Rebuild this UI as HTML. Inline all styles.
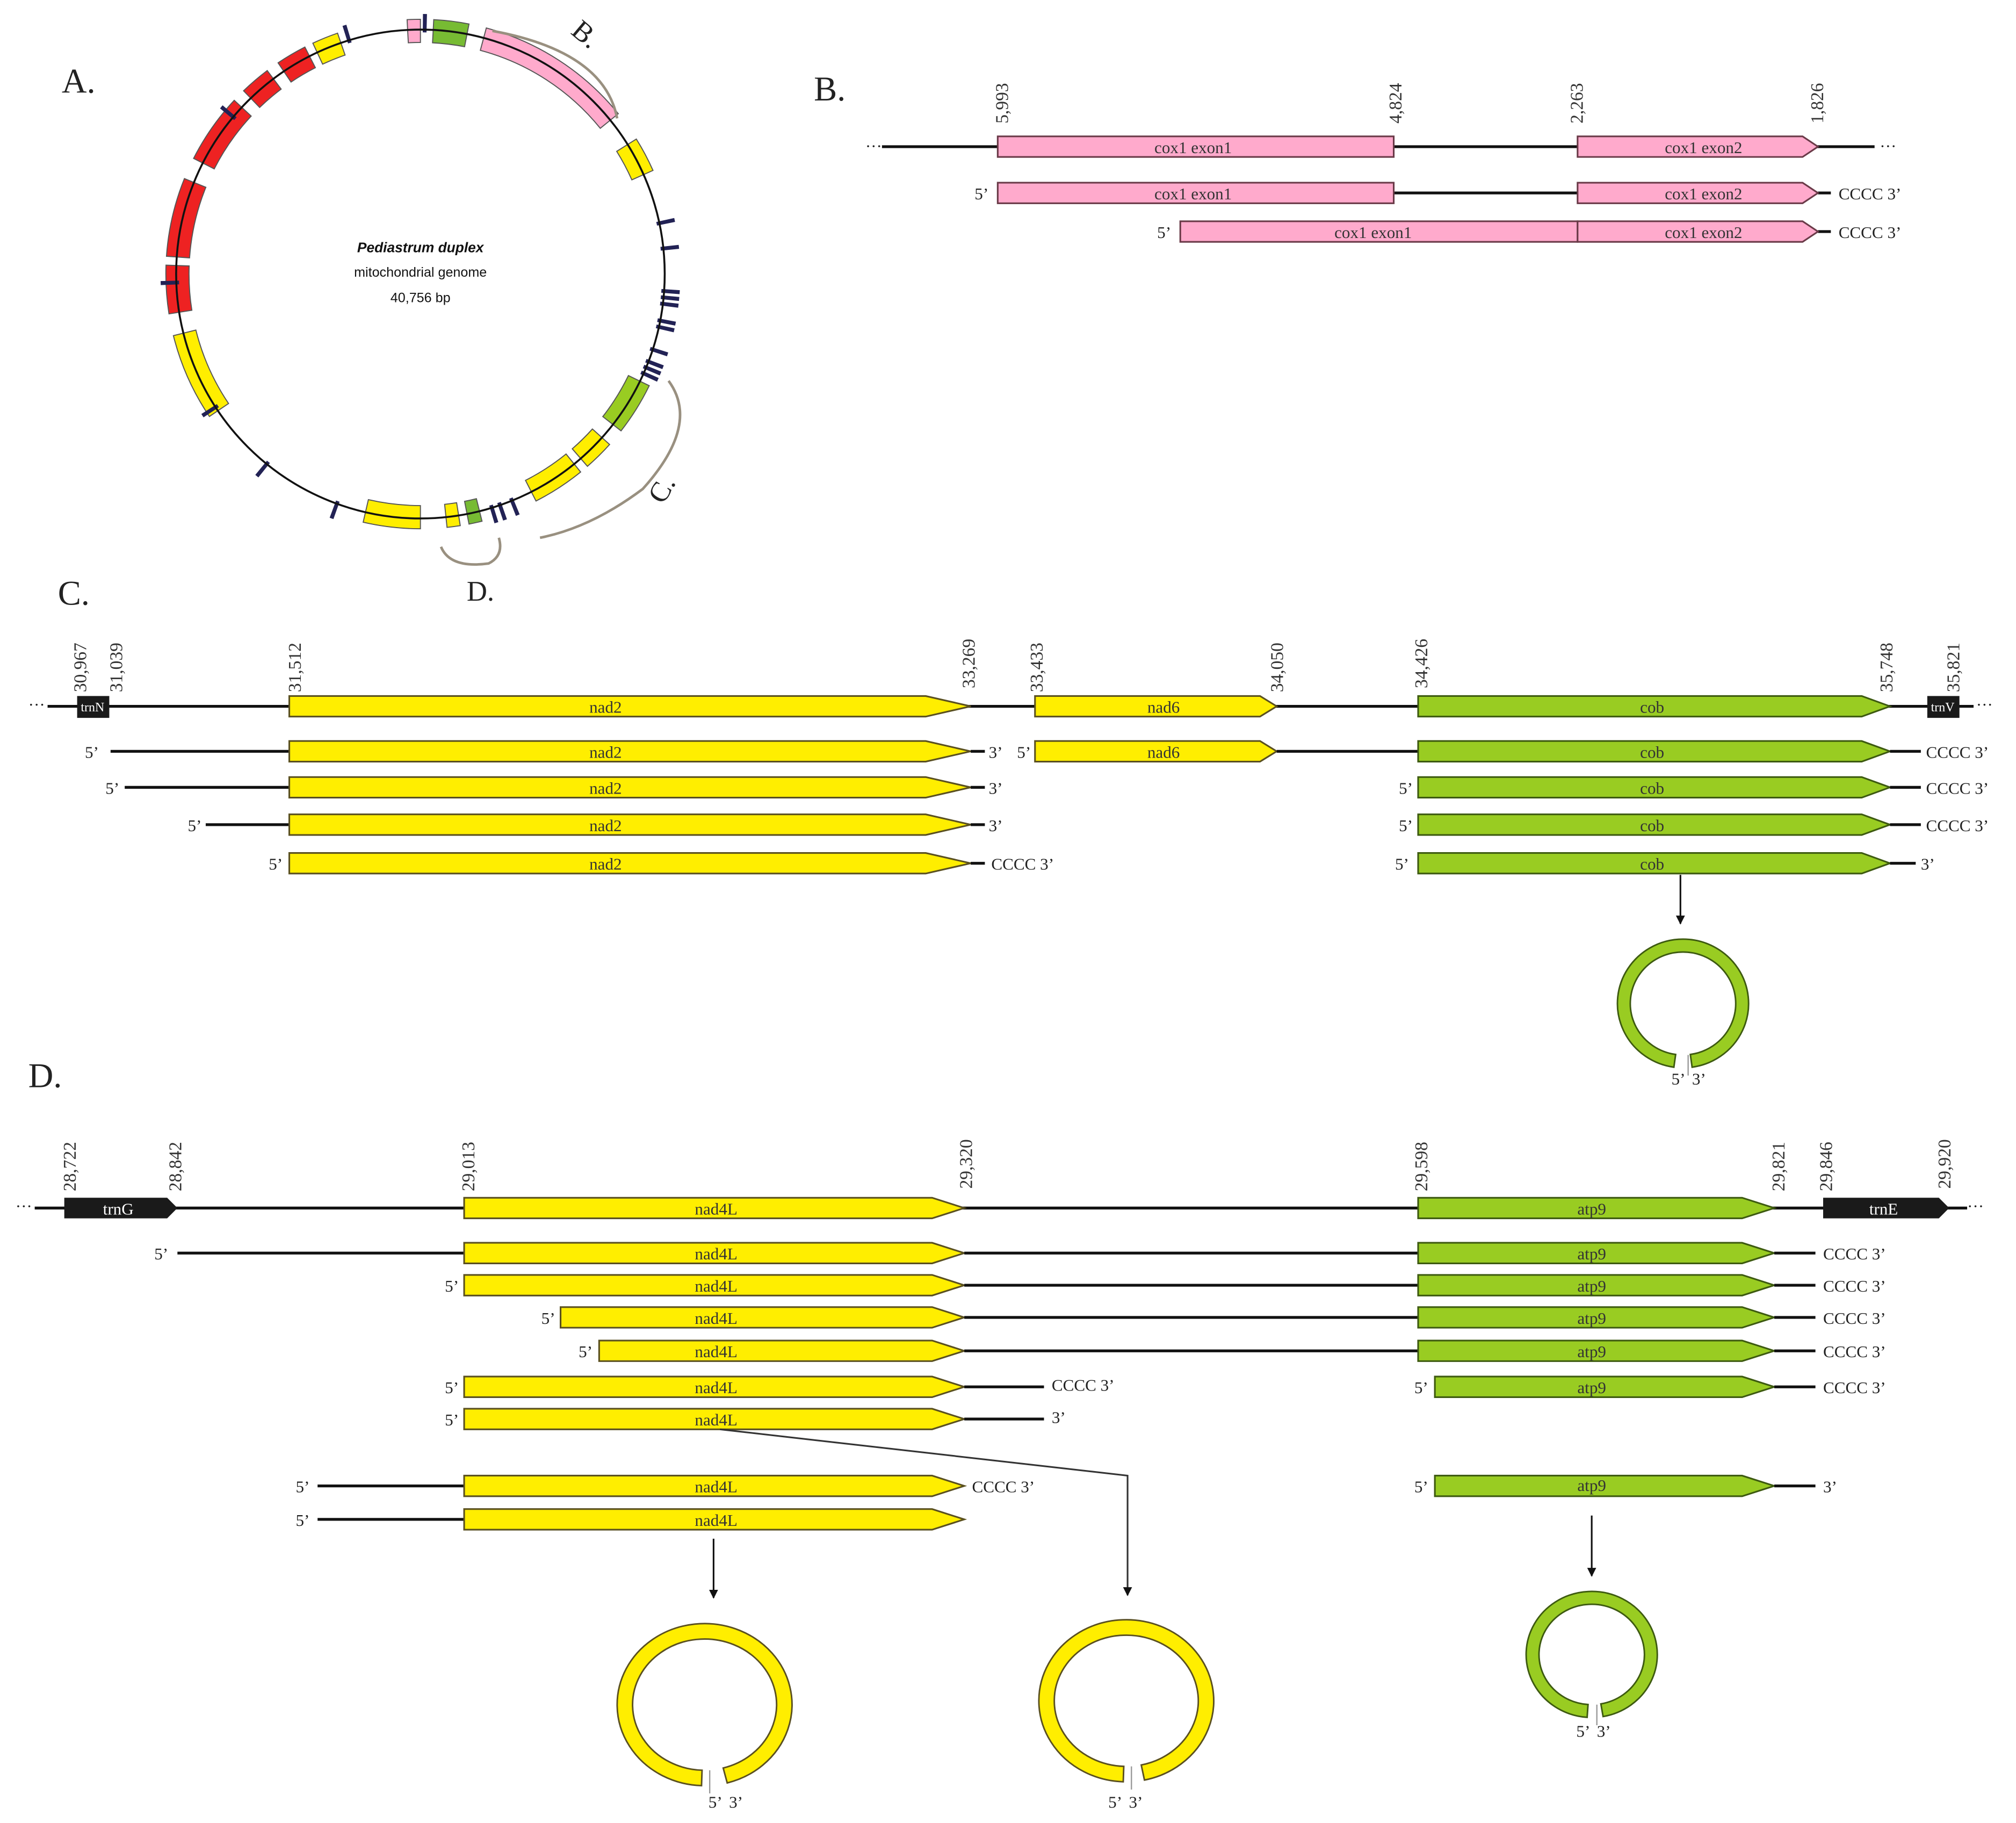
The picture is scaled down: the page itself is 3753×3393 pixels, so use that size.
<!DOCTYPE html>
<html><head><meta charset="utf-8"><style>
html,body{margin:0;padding:0;background:#fff}
svg{display:block}
.s{font-family:"Liberation Serif",serif;fill:#222}
.g{font-family:"Liberation Serif",serif;font-size:13px;fill:#333;text-anchor:middle}
.n{font-family:"Liberation Serif",serif;font-size:14px;fill:#333}
.l{font-family:"Liberation Serif",serif;font-size:13px;fill:#222}
.y{fill:#ffee00;stroke:#5a5020;stroke-width:1.3}
.gr{fill:#99cc22;stroke:#3d5a10;stroke-width:1.3}
.p{fill:#ffaacc;stroke:#6a3a48;stroke-width:1.3}
.k{fill:#1a1a1a}
.ln{stroke:#111;stroke-width:2.2}
</style></head><body>
<svg width="3753" height="3393" viewBox="0 0 1568 1417" preserveAspectRatio="none" xmlns="http://www.w3.org/2000/svg">
<defs><marker id="ar" viewBox="0 0 10 10" refX="9" refY="5" markerWidth="7" markerHeight="9" orient="auto" markerUnits="userSpaceOnUse"><path d="M0,0 L10,5 L0,10 z" fill="#111"/></marker></defs>

<!-- Panel A -->
<text class="s" x="48" y="72" font-size="27">A.</text>
<g id="circ"></g>
<circle cx="327" cy="213" r="190" fill="none" stroke="#111" stroke-width="1.5"/>
<text x="327" y="196" font-family="Liberation Sans,sans-serif" font-size="11" font-weight="bold" font-style="italic" text-anchor="middle" fill="#111">Pediastrum duplex</text>
<text x="327" y="215" font-family="Liberation Sans,sans-serif" font-size="10.5" text-anchor="middle" fill="#111">mitochondrial genome</text>
<text x="327" y="235" font-family="Liberation Sans,sans-serif" font-size="10.5" text-anchor="middle" fill="#111">40,756 bp</text>
<path d="M383,24 Q470,40 480,92" fill="none" stroke="#999080" stroke-width="2"/>
<text class="s" x="446" y="34" font-size="22" transform="rotate(40 456 26)">B.</text>
<path d="M520,296 Q545,330 500,380 Q460,410 420,418" fill="none" stroke="#999080" stroke-width="2"/>
<text class="s" x="504" y="388" font-size="22" transform="rotate(-60 514 380)">C.</text>
<path d="M343,425 Q350,442 380,438 Q392,432 388,418" fill="none" stroke="#999080" stroke-width="2"/>
<text class="s" x="363" y="467" font-size="22">D.</text>

<!-- Panel B -->
<text class="s" x="633" y="78" font-size="27">B.</text>
<text class="l" x="673" y="118">···</text><text class="l" x="1462" y="118">···</text>
<line class="ln" x1="686" y1="114" x2="1458" y2="114"/>
<rect class="p" x="776" y="106" width="308" height="16"/><text class="g" x="928" y="119">cox1 exon1</text>
<polygon class="p" points="1227,106 1402,106 1414,114 1402,122 1227,122"/><text class="g" x="1325" y="119">cox1 exon2</text>
<text class="n" transform="translate(784,96) rotate(-90)">5,993</text>
<text class="n" transform="translate(1090,96) rotate(-90)">4,824</text>
<text class="n" transform="translate(1231,96) rotate(-90)">2,263</text>
<text class="n" transform="translate(1418,96) rotate(-90)">1,826</text>
<text class="l" x="758" y="155">5’</text>
<line class="ln" x1="1084" y1="150" x2="1227" y2="150"/><line class="ln" x1="1414" y1="150" x2="1424" y2="150"/>
<rect class="p" x="776" y="142" width="308" height="16"/><text class="g" x="928" y="155">cox1 exon1</text>
<polygon class="p" points="1227,142 1402,142 1414,150 1402,158 1227,158"/><text class="g" x="1325" y="155">cox1 exon2</text>
<text class="l" x="1430" y="155">CCCC 3’</text>
<text class="l" x="900" y="185">5’</text>
<line class="ln" x1="1414" y1="180" x2="1424" y2="180"/>
<rect class="p" x="918" y="172" width="309" height="16"/><text class="g" x="1068" y="185">cox1 exon1</text>
<polygon class="p" points="1227,172 1402,172 1414,180 1402,188 1227,188"/><text class="g" x="1325" y="185">cox1 exon2</text>
<text class="l" x="1430" y="185">CCCC 3’</text>

<!-- Panel C -->
<text class="s" x="45" y="470" font-size="27">C.</text>
<text class="l" x="22" y="552">···</text><text class="l" x="1537" y="552">···</text>
<line class="ln" x1="37" y1="549" x2="1535" y2="549"/>
<rect class="k" x="60" y="541" width="25" height="17"/><text x="72" y="553" font-family="Liberation Serif,serif" font-size="10" fill="#fff" text-anchor="middle">trnN</text>
<rect class="k" x="1499" y="541" width="25" height="17"/><text x="1511" y="553" font-family="Liberation Serif,serif" font-size="10" fill="#fff" text-anchor="middle">trnV</text>
<polygon class="y" points="225,541 720,541 755,549 720,557 225,557"/><text class="g" x="471" y="554">nad2</text>
<polygon class="y" points="805,541 980,541 993,549 980,557 805,557"/><text class="g" x="905" y="554">nad6</text>
<polygon class="gr" points="1103,541 1448,541 1470,549 1448,557 1103,557"/><text class="g" x="1285" y="554">cob</text>
<text class="n" transform="translate(67,538) rotate(-90)">30,967</text>
<text class="n" transform="translate(95,538) rotate(-90)">31,039</text>
<text class="n" transform="translate(234,538) rotate(-90)">31,512</text>
<text class="n" transform="translate(758,535) rotate(-90)">33,269</text>
<text class="n" transform="translate(811,538) rotate(-90)">33,433</text>
<text class="n" transform="translate(998,538) rotate(-90)">34,050</text>
<text class="n" transform="translate(1110,535) rotate(-90)">34,426</text>
<text class="n" transform="translate(1472,538) rotate(-90)">35,748</text>
<text class="n" transform="translate(1524,538) rotate(-90)">35,821</text>
<!-- row 584 -->
<text class="l" x="66" y="589">5’</text><line class="ln" x1="86" y1="584" x2="225" y2="584"/>
<polygon class="y" points="225,576 720,576 755,584 720,592 225,592"/><text class="g" x="471" y="589">nad2</text>
<line class="ln" x1="755" y1="584" x2="766" y2="584"/><text class="l" x="769" y="589">3’</text>
<text class="l" x="791" y="589">5’</text>
<polygon class="y" points="805,576 980,576 993,584 980,592 805,592"/><text class="g" x="905" y="589">nad6</text>
<line class="ln" x1="993" y1="584" x2="1103" y2="584"/>
<polygon class="gr" points="1103,576 1448,576 1470,584 1448,592 1103,592"/><text class="g" x="1285" y="589">cob</text>
<line class="ln" x1="1470" y1="584" x2="1494" y2="584"/><text class="l" x="1498" y="589">CCCC 3’</text>
<!-- row 612 -->
<text class="l" x="82" y="617">5’</text><line class="ln" x1="97" y1="612" x2="225" y2="612"/>
<polygon class="y" points="225,604 720,604 755,612 720,620 225,620"/><text class="g" x="471" y="617">nad2</text>
<line class="ln" x1="755" y1="612" x2="766" y2="612"/><text class="l" x="769" y="617">3’</text>
<text class="l" x="1088" y="617">5’</text>
<polygon class="gr" points="1103,604 1448,604 1470,612 1448,620 1103,620"/><text class="g" x="1285" y="617">cob</text>
<line class="ln" x1="1470" y1="612" x2="1494" y2="612"/><text class="l" x="1498" y="617">CCCC 3’</text>
<!-- row 641 -->
<text class="l" x="146" y="646">5’</text><line class="ln" x1="160" y1="641" x2="225" y2="641"/>
<polygon class="y" points="225,633 720,633 755,641 720,649 225,649"/><text class="g" x="471" y="646">nad2</text>
<line class="ln" x1="755" y1="641" x2="766" y2="641"/><text class="l" x="769" y="646">3’</text>
<text class="l" x="1088" y="646">5’</text>
<polygon class="gr" points="1103,633 1448,633 1470,641 1448,649 1103,649"/><text class="g" x="1285" y="646">cob</text>
<line class="ln" x1="1470" y1="641" x2="1494" y2="641"/><text class="l" x="1498" y="646">CCCC 3’</text>
<!-- row 671 -->
<text class="l" x="209" y="676">5’</text>
<polygon class="y" points="225,663 720,663 755,671 720,679 225,679"/><text class="g" x="471" y="676">nad2</text>
<line class="ln" x1="755" y1="671" x2="766" y2="671"/><text class="l" x="771" y="676">CCCC 3’</text>
<text class="l" x="1085" y="676">5’</text>
<polygon class="gr" points="1103,663 1448,663 1470,671 1448,679 1103,679"/><text class="g" x="1285" y="676">cob</text>
<line class="ln" x1="1470" y1="671" x2="1490" y2="671"/><text class="l" x="1494" y="676">3’</text>
<line x1="1307" y1="680" x2="1307" y2="718" stroke="#111" stroke-width="1.3" marker-end="url(#ar)"/>
<g id="ringC"></g>
<text class="l" x="1300" y="843" font-size="12">5’</text><text class="l" x="1316" y="843" font-size="12">3’</text>

<!-- Panel D -->
<text class="s" x="22" y="845" font-size="27">D.</text>
<text class="l" x="12" y="942">···</text><text class="l" x="1530" y="942">···</text>
<line class="ln" x1="27" y1="939" x2="1530" y2="939"/>
<polygon class="k" points="50,931 130,931 138,939 130,947 50,947"/><text x="92" y="944" font-family="Liberation Serif,serif" font-size="13" fill="#fff" text-anchor="middle">trnG</text>
<polygon class="k" points="1418,931 1508,931 1516,939 1508,947 1418,947"/><text x="1465" y="944" font-family="Liberation Serif,serif" font-size="13" fill="#fff" text-anchor="middle">trnE</text>
<polygon class="y" points="361,931 725,931 750,939 725,947 361,947"/><text class="g" x="557" y="944">nad4L</text>
<polygon class="gr" points="1103,931 1355,931 1380,939 1355,947 1103,947"/><text class="g" x="1238" y="944">atp9</text>
<text class="n" transform="translate(59,926) rotate(-90)">28,722</text>
<text class="n" transform="translate(141,926) rotate(-90)">28,842</text>
<text class="n" transform="translate(369,926) rotate(-90)">29,013</text>
<text class="n" transform="translate(756,924) rotate(-90)">29,320</text>
<text class="n" transform="translate(1110,926) rotate(-90)">29,598</text>
<text class="n" transform="translate(1388,926) rotate(-90)">29,821</text>
<text class="n" transform="translate(1425,926) rotate(-90)">29,846</text>
<text class="n" transform="translate(1517,924) rotate(-90)">29,920</text>
<!-- rows -->
<text class="l" x="120" y="979">5’</text><line class="ln" x1="138" y1="974" x2="361" y2="974"/>
<polygon class="y" points="361,966 725,966 750,974 725,982 361,982"/><text class="g" x="557" y="979">nad4L</text>
<line class="ln" x1="750" y1="974" x2="1103" y2="974"/>
<polygon class="gr" points="1103,966 1355,966 1380,974 1355,982 1103,982"/><text class="g" x="1238" y="979">atp9</text>
<line class="ln" x1="1380" y1="974" x2="1412" y2="974"/><text class="l" x="1418" y="979">CCCC 3’</text>

<text class="l" x="346" y="1004">5’</text>
<polygon class="y" points="361,991 725,991 750,999 725,1007 361,1007"/><text class="g" x="557" y="1004">nad4L</text>
<line class="ln" x1="750" y1="999" x2="1103" y2="999"/>
<polygon class="gr" points="1103,991 1355,991 1380,999 1355,1007 1103,1007"/><text class="g" x="1238" y="1004">atp9</text>
<line class="ln" x1="1380" y1="999" x2="1412" y2="999"/><text class="l" x="1418" y="1004">CCCC 3’</text>

<text class="l" x="421" y="1029">5’</text>
<polygon class="y" points="436,1016 725,1016 750,1024 725,1032 436,1032"/><text class="g" x="557" y="1029">nad4L</text>
<line class="ln" x1="750" y1="1024" x2="1103" y2="1024"/>
<polygon class="gr" points="1103,1016 1355,1016 1380,1024 1355,1032 1103,1032"/><text class="g" x="1238" y="1029">atp9</text>
<line class="ln" x1="1380" y1="1024" x2="1412" y2="1024"/><text class="l" x="1418" y="1029">CCCC 3’</text>

<text class="l" x="450" y="1055">5’</text>
<polygon class="y" points="466,1042 725,1042 750,1050 725,1058 466,1058"/><text class="g" x="557" y="1055">nad4L</text>
<line class="ln" x1="750" y1="1050" x2="1103" y2="1050"/>
<polygon class="gr" points="1103,1042 1355,1042 1380,1050 1355,1058 1103,1058"/><text class="g" x="1238" y="1055">atp9</text>
<line class="ln" x1="1380" y1="1050" x2="1412" y2="1050"/><text class="l" x="1418" y="1055">CCCC 3’</text>

<text class="l" x="346" y="1083">5’</text>
<polygon class="y" points="361,1070 725,1070 750,1078 725,1086 361,1086"/><text class="g" x="557" y="1083">nad4L</text>
<line class="ln" x1="750" y1="1078" x2="812" y2="1078"/><text class="l" x="818" y="1081">CCCC 3’</text>
<text class="l" x="1100" y="1083">5’</text>
<polygon class="gr" points="1116,1070 1355,1070 1380,1078 1355,1086 1116,1086"/><text class="g" x="1238" y="1083">atp9</text>
<line class="ln" x1="1380" y1="1078" x2="1412" y2="1078"/><text class="l" x="1418" y="1083">CCCC 3’</text>

<text class="l" x="346" y="1108">5’</text>
<polygon class="y" points="361,1095 725,1095 750,1103 725,1111 361,1111"/><text class="g" x="557" y="1108">nad4L</text>
<line class="ln" x1="750" y1="1103" x2="812" y2="1103"/><text class="l" x="818" y="1106">3’</text>

<polyline points="560,1111 877,1147 877,1240" fill="none" stroke="#333" stroke-width="1.3" marker-end="url(#ar)"/>

<text class="l" x="230" y="1160">5’</text><line class="ln" x1="247" y1="1155" x2="361" y2="1155"/>
<polygon class="y" points="361,1147 725,1147 750,1155 725,1163 361,1163"/><text class="g" x="557" y="1160">nad4L</text>
<text class="l" x="756" y="1160">CCCC 3’</text>
<text class="l" x="1100" y="1160">5’</text>
<polygon class="gr" points="1116,1147 1355,1147 1380,1155 1355,1163 1116,1163"/><text class="g" x="1238" y="1159">atp9</text>
<line class="ln" x1="1380" y1="1155" x2="1412" y2="1155"/><text class="l" x="1418" y="1160">3’</text>

<text class="l" x="230" y="1186">5’</text><line class="ln" x1="247" y1="1181" x2="361" y2="1181"/>
<polygon class="y" points="361,1173 725,1173 750,1181 725,1189 361,1189"/><text class="g" x="557" y="1186">nad4L</text>

<line x1="555" y1="1196" x2="555" y2="1242" stroke="#111" stroke-width="1.3" marker-end="url(#ar)"/>
<line x1="1238" y1="1178" x2="1238" y2="1225" stroke="#111" stroke-width="1.3" marker-end="url(#ar)"/>
<g id="ringD"></g>
<text class="l" x="551" y="1405" font-size="12">5’</text><text class="l" x="567" y="1405" font-size="12">3’</text>
<text class="l" x="862" y="1405" font-size="12">5’</text><text class="l" x="878" y="1405" font-size="12">3’</text>
<text class="l" x="1226" y="1350" font-size="12">5’</text><text class="l" x="1242" y="1350" font-size="12">3’</text>
</svg>
<script>
(function(){
var NS="http://www.w3.org/2000/svg";
function P(cx,cy,r,a){var t=(a-90)*Math.PI/180;return [cx+r*Math.cos(t),cy+r*Math.sin(t)];}
function band(cx,cy,r1,r2,a1,a2){var l=(a2-a1)>180?1:0;var p1=P(cx,cy,r2,a1),p2=P(cx,cy,r2,a2),p3=P(cx,cy,r1,a2),p4=P(cx,cy,r1,a1);
return "M"+p1+" A"+r2+","+r2+" 0 "+l+" 1 "+p2+" L"+p3+" A"+r1+","+r1+" 0 "+l+" 0 "+p4+" Z";}
function add(g,d,fill,stroke,sw){var e=document.createElementNS(NS,"path");e.setAttribute("d",d);e.setAttribute("fill",fill);e.setAttribute("stroke",stroke);e.setAttribute("stroke-width",sw);g.appendChild(e);}
var g=document.getElementById("circ");
var genes=[[-3,0,"#ffaacc"],[3,11,"#77bb33"],[15,51,"#ffaacc"],[58,66,"#ffee00"],[116,128,"#99cc22"],[132,139,"#ffee00"],[141,153,"#ffee00"],[166,169,"#77bb33"],[171,174,"#ffee00"],[180,193,"#ffee00"],[236,256,"#ffee00"],[261,272,"#ee2222"],[274,292,"#ee2222"],[297,313,"#ee2222"],[316,323,"#ee2222"],[326,333,"#ee2222"],[335,341,"#ffee00"]];
genes.forEach(function(x){add(g,band(327,213,180,198,x[0],x[1]),x[2],"#555",0.8);});
[1,78,84,94,95.5,97,101,102.5,108,111,112.5,114,158,161,163,200,219,237,268,310,343].forEach(function(a){add(g,band(327,213,188,202,a-0.4,a+0.4),"#222255","#222255",0.3);});
function ring(g,cx,cy,rx,ry,w,fill,stroke,gap1,gap2){
 var a1=gap2,a2=gap1+360;var ro=[rx,ry],ri=[rx-w,ry-w];
 function E(r,a){var t=(a-90)*Math.PI/180;return [cx+r[0]*Math.cos(t),cy+r[1]*Math.sin(t)];}
 var d="M"+E(ro,a1)+" A"+ro[0]+","+ro[1]+" 0 1 1 "+E(ro,a2)+" L"+E(ri,a2)+" A"+ri[0]+","+ri[1]+" 0 1 0 "+E(ri,a1)+" Z";
 add(g,d,fill,stroke,1.2);
 var e=document.createElementNS(NS,"line");var q=E(ro,180),q2=E(ri,180);e.setAttribute("x1",q[0]+4);e.setAttribute("y1",q[1]+6);e.setAttribute("x2",q2[0]+4);e.setAttribute("y2",q2[1]);e.setAttribute("stroke","#999");e.setAttribute("stroke-width","1");g.appendChild(e);
}
ring(document.getElementById("ringC"),1309,780,51,50,10,"#99cc22","#3d5a10",172,188);
var gd=document.getElementById("ringD");
ring(gd,548,1325,68,63,12,"#ffee00","#5a5020",165,182);
ring(gd,876,1322,68,63,12,"#ffee00","#5a5020",168,182);
ring(gd,1238,1286,51,49,10,"#99cc22","#3d5a10",170,184);
})();
</script>
</body></html>
